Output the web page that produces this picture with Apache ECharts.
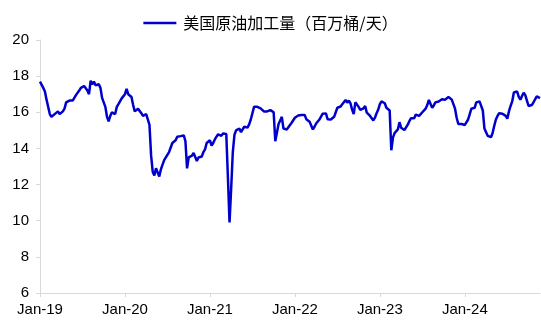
<!DOCTYPE html>
<html>
<head>
<meta charset="utf-8">
<script src="https://cdn.jsdelivr.net/npm/echarts@6/dist/echarts.min.js"></script>
<style>html,body{margin:0;padding:0;background:#fff;}#c{width:541px;height:320px;}</style>
</head>
<body>
<div id="c"></div>
<script>
// Weekly US refinery crude runs (million b/d), first week Jan 2019
var seriesName = '美国原油加工量（百万桶/天）';
var xTickLabels = ['Jan-19', 'Jan-20', 'Jan-21', 'Jan-22', 'Jan-23', 'Jan-24'];
var weeksPerTick = 52;
var runs = [
  17.7, 17.6, 17.35, 17.15, 16.7, 16.6, 15.9, 15.75, 15.8, 15.9,
  16.0, 16.05, 15.9, 15.95, 16.05, 16.2, 16.55, 16.45, 16.65, 16.7,
  16.65, 16.8, 16.95, 17.05, 17.2, 17.35, 17.4, 17.45, 17.4, 17.2,
  17.0, 17.75, 17.55, 17.7, 17.5, 17.55, 17.55, 17.35, 16.8, 16.55,
  16.3, 15.75, 15.5, 15.8, 16.0, 15.95, 15.9, 16.3, 16.45, 16.5,
  16.77, 16.86, 17.0, 17.3, 17.0, 17.05, 16.85, 16.4, 16.05, 16.1,
  16.2, 16.2, 15.95, 15.8, 15.8, 15.9, 15.8, 15.3, 13.6, 12.7,
  12.5, 12.9, 12.95, 12.45, 12.85, 13.1, 13.35, 13.5, 13.6, 13.8,
  14.05, 14.3, 14.35, 14.45, 14.65, 14.72, 14.68, 14.6, 14.72, 14.4,
  12.9, 13.5, 13.4, 13.6, 13.75, 13.85, 13.3, 13.5, 13.55, 13.55,
  13.8, 13.95, 14.3, 14.2, 14.45, 14.15, 14.3, 14.5, 14.65, 14.78,
  14.75, 14.7, 14.82, 14.8, 14.8, 12.4, 9.9, 11.8, 13.8, 14.75,
  15.0, 15.1, 15.1, 14.9, 15.0, 15.2, 15.15, 15.15, 15.33, 15.6,
  15.95, 16.3, 16.38, 16.3, 16.25, 16.22, 16.18, 16.05, 15.95, 16.05,
  16.15, 16.12, 16.07, 16.0, 14.4, 14.45, 15.35, 15.55, 15.75, 15.1,
  15.05, 15.05, 15.1, 15.3, 15.42, 15.5, 15.7, 15.8, 15.82, 15.8,
  15.85, 15.9, 15.85, 15.62, 15.52, 15.48, 15.4, 15.05, 15.2, 15.38,
  15.45, 15.6, 15.76, 15.92, 15.98, 15.94, 15.62, 15.72, 15.6, 15.62,
  15.75, 16.0, 16.25, 16.35, 16.32, 16.45, 16.55, 16.68, 16.53, 16.65,
  16.5, 16.15, 15.9, 16.55, 16.48, 16.3, 16.13, 16.1, 16.22, 16.35,
  15.98, 15.88, 15.8, 15.76, 15.55, 15.7, 15.95, 16.15, 16.45, 16.6,
  16.7, 16.5, 16.25, 16.18, 16.1, 13.9, 14.6, 14.85, 14.95, 15.05,
  15.45, 15.15, 15.05, 15.02, 15.05, 15.3, 15.5, 15.67, 15.76, 15.67,
  15.87, 15.8, 15.8, 15.85, 16.0, 16.1, 16.2, 16.4, 16.68, 16.6,
  16.25, 16.38, 16.55, 16.65, 16.6, 16.65, 16.72, 16.8, 16.7, 16.75,
  16.85, 16.75, 16.7, 16.7, 16.2, 15.7, 15.35, 15.3, 15.35, 15.28,
  15.3, 15.4, 15.6, 15.9, 16.2, 16.3, 16.25, 16.55, 16.65, 16.6,
  16.55, 16.1, 15.1, 14.9, 14.7, 14.6, 14.62, 14.85, 15.25, 15.6,
  15.8, 15.95, 15.95, 15.92, 15.95, 15.8, 15.65, 16.05, 16.35, 16.6,
  17.1, 17.15, 17.15, 16.85, 16.7, 16.9, 17.08, 16.95, 16.65, 16.35,
  16.25, 16.4, 16.55, 16.72, 16.88, 16.85, 16.78
];
var weeks = runs.map(function (v, i) { return 'W' + i; });

var chart = echarts.init(document.getElementById('c'), null, {renderer: 'canvas'});
var axisGray = '#d9d9d9';
var textFont = 'Liberation Sans, Arial, sans-serif';
chart.setOption({
  animation: false,
  backgroundColor: '#fff',
  legend: {
    top: 10,
    left: 'center',
    icon: 'rect',
    itemWidth: 33,
    itemHeight: 2.5,
    itemGap: 4,
    textStyle: {fontFamily: 'Noto Sans CJK SC', fontSize: 16, color: '#000', padding: [0, 0, 0, 2]},
    data: [seriesName]
  },
  grid: {left: 40, right: 1, top: 40, bottom: 27, containLabel: false},
  xAxis: {
    type: 'category',
    data: weeks,
    boundaryGap: false,
    axisLine: {lineStyle: {color: axisGray, width: 1}},
    axisTick: {show: true, length: 4, lineStyle: {color: axisGray},
      interval: function (i) { return i % weeksPerTick === 0; }},
    axisLabel: {
      interval: function (i) { return i % weeksPerTick === 0; },
      formatter: function (v, i) { return xTickLabels[Math.round(i / weeksPerTick)] || ''; },
      color: '#000', fontSize: 15, fontFamily: textFont, margin: 9
    },
    splitLine: {show: false}
  },
  yAxis: {
    type: 'value',
    min: 6, max: 20, interval: 2,
    axisLine: {show: true, lineStyle: {color: axisGray, width: 1}},
    axisTick: {show: true, length: 4, lineStyle: {color: axisGray}},
    axisLabel: {color: '#000', fontSize: 15, fontFamily: textFont, margin: 11},
    splitLine: {show: false}
  },
  series: [{
    name: seriesName,
    type: 'line',
    data: runs,
    symbol: 'none',
    lineStyle: {color: '#0000CC', width: 2.5},
    itemStyle: {color: '#0000CC'}
  }]
});
</script>
</body>
</html>
